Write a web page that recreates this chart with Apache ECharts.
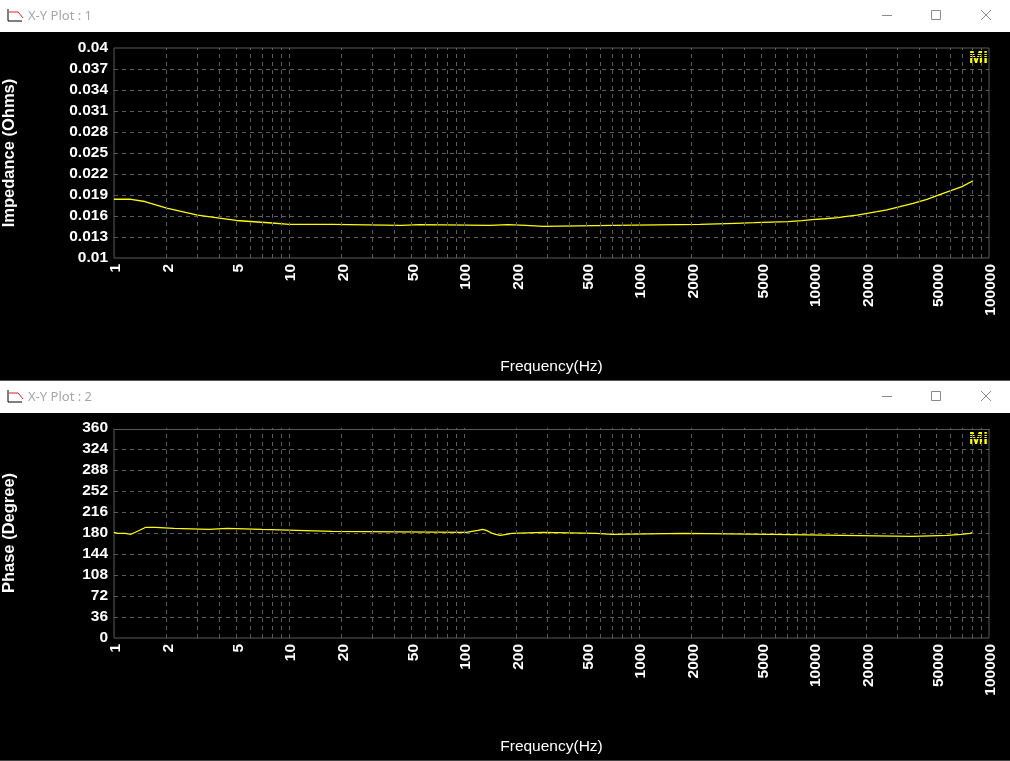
<!DOCTYPE html>
<html><head><meta charset="utf-8">
<style>html,body{margin:0;padding:0;background:#000}#c{width:1010px;height:761px}</style>
<script src="https://cdn.jsdelivr.net/npm/echarts@6/dist/echarts.min.js"></script>
</head><body><div id="c"></div>
<script>
const freqTicks = [1,2,5,10,20,50,100,200,500,1000,2000,5000,10000,20000,50000,100000];
const gridFreqs = [2,3,4,5,6,7,8,9,10,20,30,40,50,60,70,80,90,100,200,300,400,500,600,700,800,900,1000,2000,3000,4000,5000,6000,7000,8000,9000,10000,20000,30000,40000,50000,60000,70000,80000,90000];
const impedanceTicks = [0.01,0.013,0.016,0.019,0.022,0.025,0.028,0.031,0.034,0.037,0.04];
const impedanceFreq = [1,1.25,1.5,2,3,4,5,8,10,17.5,17.6,44,44.1,56,141,141.1,178,178.1,226,226.1,283,283.1,710,710.1,2230,3540,4540,7100,8540,9740,11550,13700,15000,17600,20100,22900,26100,31000,36800,44200,50400,58300,70100,81000];
const impedance = [.01839,.01839,.01807,.01714,.01614,.01571,.01536,.0150,.01481,.01481,.01467,.01467,.01476,.01476,.01467,.01476,.01476,.01467,.01467,.01453,.01453,.01467,.01467,.01481,.01481,.01496,.01504,.01519,.01533,.01547,.01561,.01576,.0159,.01614,.01639,.01661,.01686,.01733,.01781,.01839,.0189,.01947,.02019,.02104];
const phaseFreq = [1,1.05,1.16,1.25,1.27,1.41,1.52,1.72,1.74,2.2,2.21,3.49,3.5,4.42,4.43,7.01,7.02,11.1,11.2,17.6,17.7,103,111,120,123,128,130,134,137,145,152,156,161,165,174,178,188,193,283,284,568,569,701,702,1807,1808,5750,5760,14450,14460,36300,36400,57500,57600,69200,69300,77900,78000,81000];
const phase = [181.2,179.5,179.5,177.8,179.5,185.1,189.8,189.8,188.1,188.1,186.3,186.3,188.1,188.1,186.3,186.3,184.6,184.6,182.9,182.9,181.2,181.2,182.9,184.6,186.3,186.3,184.6,184.6,182.2,179.5,177.8,176.1,176.1,177.8,177.8,179.5,179.5,181.2,181.2,179.5,179.5,177.8,177.8,179.5,179.5,177.8,177.8,176.1,176.1,174.3,174.3,176.1,176.1,177.8,177.8,179.5,179.5,181.2,181.2];
const titles = ['X-Y Plot : 1','X-Y Plot : 2'];

const FONT = '"Liberation Sans", Arial, sans-serif';
const grids = [{left:114,top:48,width:875,height:210},{left:114,top:428,width:875,height:210}];
const labelStyle = {color:'#fff',fontFamily:FONT,fontWeight:'bold',fontSize:15.5};
const dash = {color:'#5c5c5c',width:1,type:[4,4]};

function xAxis(i){return {
  type:'log',logBase:10,gridIndex:i,min:1,max:100000,
  name:'Frequency(Hz)',nameLocation:'middle',nameGap:101,
  nameTextStyle:{color:'#fff',fontFamily:FONT,fontSize:15.5,fontWeight:'normal'},
  axisLine:{show:false},axisTick:{show:false},splitLine:{show:false},minorTick:{show:false},
  axisLabel:Object.assign({},labelStyle,{rotate:90,margin:6,customValues:freqTicks,showMinLabel:true,showMaxLabel:true,hideOverlap:false,
    rich:{t:Object.assign({},labelStyle,{padding:[4,0,0,0]})},
    formatter:v=>'{t|'+Math.round(v)+'}'})
};}
function makeLine(i,x,y){return {
  type:'line',xAxisIndex:i,yAxisIndex:i,showSymbol:false,silent:true,animation:false,
  lineStyle:{color:'#ffff00',width:1.3},
  data:x.map((f,k)=>[f,y[k]]),
  markLine:{silent:true,animation:false,symbol:'none',label:{show:false},lineStyle:dash,
    data:gridFreqs.map(f=>({xAxis:f}))}
};}
const win = (y0,t)=>[
  {type:'rect',shape:{x:0,y:y0,width:1010,height:32},style:{fill:'#fff'}},
  {type:'polyline',shape:{points:[[8,y0+9],[8,y0+21],[22,y0+21]]},style:{stroke:'#000',fill:null,lineWidth:1}},
  {type:'polyline',shape:{points:[[9,y0+12],[18,y0+12],[23,y0+18]]},style:{stroke:'#e02020',fill:null,lineWidth:1}},
  {type:'text',x:28,y:y0+16,style:{text:t,fill:'#a6a6a6',font:'13px "Noto Sans", sans-serif',verticalAlign:'middle'}},
  {type:'line',shape:{x1:882,y1:y0+15.5,x2:892,y2:y0+15.5},style:{stroke:'#8a8a8a',lineWidth:1}},
  {type:'rect',shape:{x:931.5,y:y0+10.5,width:9,height:9},style:{stroke:'#8a8a8a',fill:null,lineWidth:1}},
  {type:'line',shape:{x1:981,y1:y0+10,x2:991,y2:y0+20},style:{stroke:'#8a8a8a',lineWidth:1}},
  {type:'line',shape:{x1:991,y1:y0+10,x2:981,y2:y0+20},style:{stroke:'#8a8a8a',lineWidth:1}}
];
const logo = y=>[
  {type:'text',x:969,y:y,style:{text:'Mi',fill:'#ffff00',font:'bold 17px "Liberation Sans", sans-serif'}},
  {type:'rect',shape:{x:968,y:y+3,width:21,height:1},style:{fill:'#000'}},
  {type:'rect',shape:{x:968,y:y+5,width:21,height:1},style:{fill:'#000'}},
  {type:'rect',shape:{x:968,y:y+7,width:21,height:1},style:{fill:'#000'}}
];

const chart = echarts.init(document.getElementById('c'),null,{renderer:'canvas'});
chart.setOption({
  animation:false,backgroundColor:'#000',
  grid:grids.map(g=>Object.assign({show:true,borderColor:'#5a5a5a',borderWidth:1,backgroundColor:'transparent',containLabel:false,outerBoundsMode:'none'},g)),
  xAxis:[xAxis(0),xAxis(1)],
  yAxis:[
    {type:'value',gridIndex:0,min:0.01,max:0.04,
     name:'Impedance (Ohms)',nameLocation:'middle',nameGap:96,nameRotate:90,
     nameTextStyle:Object.assign({},labelStyle,{fontSize:16.5}),
     axisLine:{show:false},axisTick:{show:false,customValues:impedanceTicks},
     splitLine:{show:true,showMinLine:false,showMaxLine:false,lineStyle:dash},
     axisLabel:Object.assign({},labelStyle,{margin:6,customValues:impedanceTicks,formatter:v=>String(+v.toFixed(3))})},
    {type:'value',gridIndex:1,min:0,max:360,interval:36,
     name:'Phase (Degree)',nameLocation:'middle',nameGap:96,nameRotate:90,
     nameTextStyle:Object.assign({},labelStyle,{fontSize:16.5}),
     axisLine:{show:false},axisTick:{show:false},
     splitLine:{show:true,showMinLine:false,showMaxLine:false,lineStyle:dash},
     axisLabel:Object.assign({},labelStyle,{margin:6})}
  ],
  series:[makeLine(0,impedanceFreq,impedance),makeLine(1,phaseFreq,phase)],
  graphic:{elements:[
    ...win(0,titles[0]),...win(381,titles[1]),
    {type:'rect',shape:{x:0,y:380,width:1010,height:1},style:{fill:'#555'}},
    {type:'rect',shape:{x:0,y:760,width:1010,height:1},style:{fill:'#444'}},
    {type:'rect',shape:{x:114,y:427,width:876,height:2},style:{fill:'#000'}},
    {type:'rect',shape:{x:114,y:429,width:876,height:1},style:{fill:'#5a5a5a'}},
    ...logo(50),...logo(431)
  ]}
});
</script></body></html>
